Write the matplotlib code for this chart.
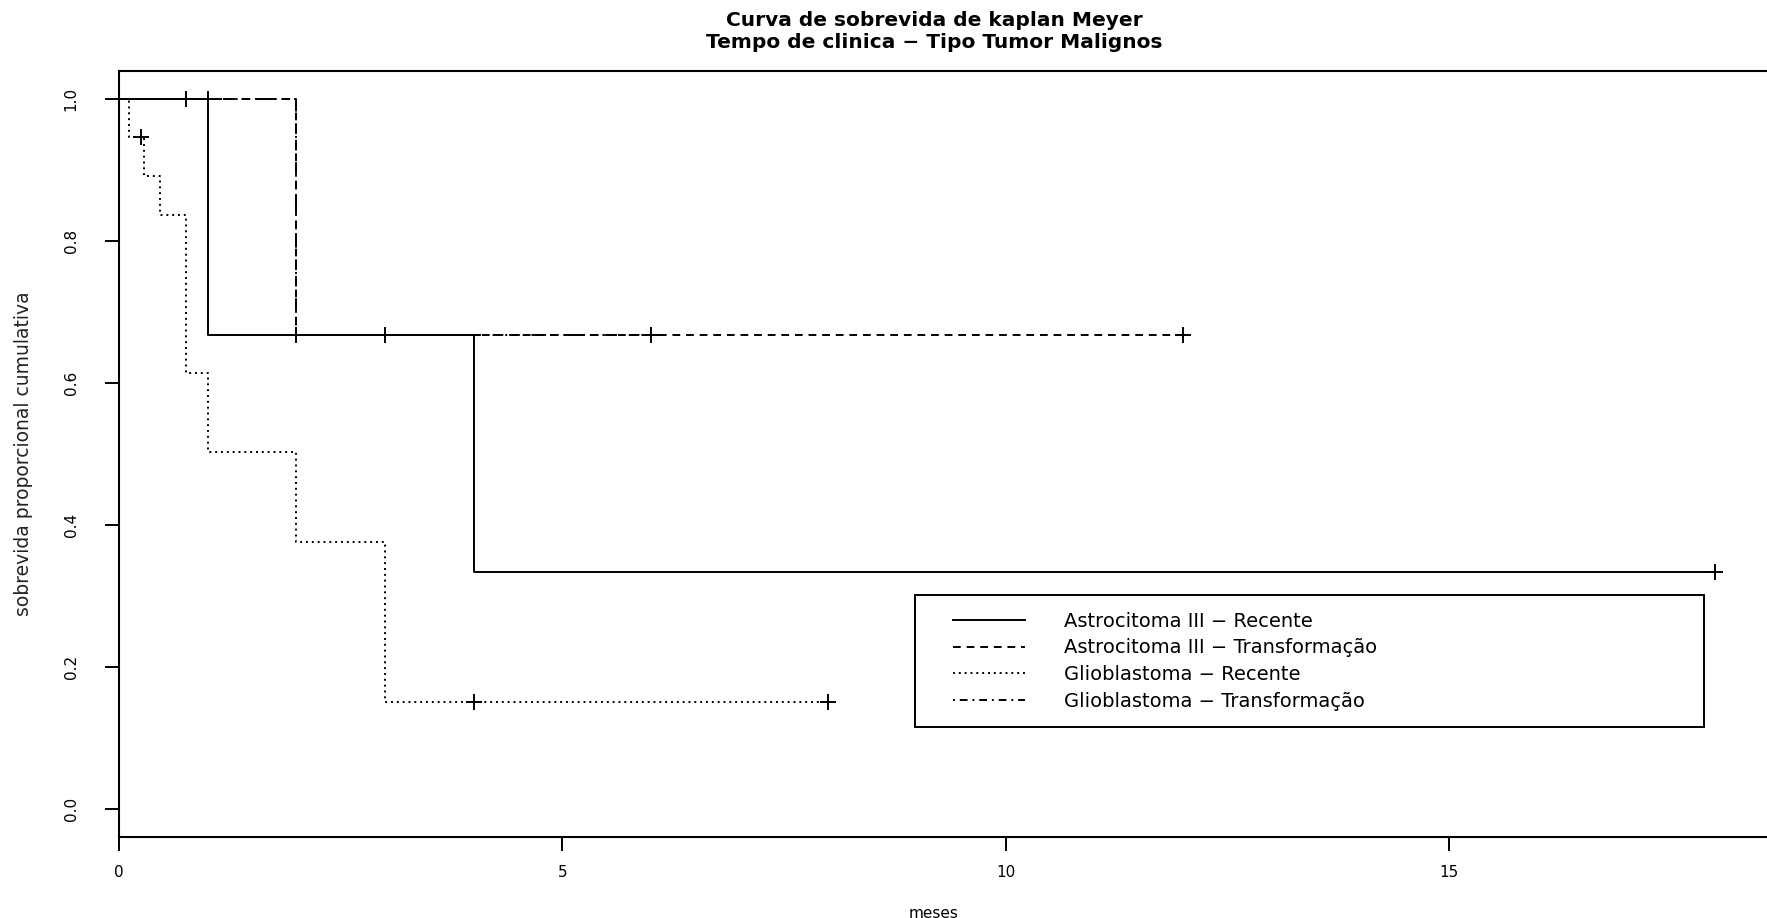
import matplotlib
matplotlib.use("Agg")
import matplotlib.pyplot as plt
from matplotlib.lines import Line2D
from matplotlib.legend_handler import HandlerLine2D

# Kaplan-Meier curves (time in months, survival after each step)
astro_rec_t = [0, 1, 4, 18]
astro_rec_s = [1.0, 0.667, 0.333, 0.333]
astro_rec_cens_t = [0.75, 18]
astro_rec_cens_s = [1.0, 0.333]

astro_tra_t = [0, 2, 12]
astro_tra_s = [1.0, 0.667, 0.667]
astro_tra_cens_t = [1, 3, 12]
astro_tra_cens_s = [1.0, 0.667, 0.667]

glio_rec_t = [0, 0.11, 0.28, 0.46, 0.76, 1, 2, 3, 8]
glio_rec_s = [1.0, 0.947, 0.892, 0.837, 0.614, 0.502, 0.376, 0.15, 0.15]
glio_rec_cens_t = [0.25, 4, 8]
glio_rec_cens_s = [0.947, 0.15, 0.15]

glio_tra_t = [0, 2, 6]
glio_tra_s = [1.0, 0.667, 0.667]
glio_tra_cens_t = [2, 6]
glio_tra_cens_s = [0.667, 0.667]

labels = ["Astrocitoma III \u2212 Recente",
          "Astrocitoma III \u2212 Transformação",
          "Glioblastoma \u2212 Recente",
          "Glioblastoma \u2212 Transformação"]

x_ticks = [0, 5, 10, 15]
y_ticks = [0.0, 0.2, 0.4, 0.6, 0.8, 1.0]

W, H = 1767, 918
fig = plt.figure(figsize=(W / 100, H / 100), dpi=100)
# plot region in pixels: left 119, right 1779 (past the edge), top 70.6, bottom 837
ax = fig.add_axes([119 / W, (H - 837) / H, (1779 - 119) / W, (837 - 70.6) / H])

lw = 1.4
styles = ["-", (0, (4, 3)), (0, (1, 2)), (0, (1, 2.5, 4, 2.5))]
curves = [
    (astro_rec_t, astro_rec_s, astro_rec_cens_t, astro_rec_cens_s),
    (astro_tra_t, astro_tra_s, astro_tra_cens_t, astro_tra_cens_s),
    (glio_rec_t, glio_rec_s, glio_rec_cens_t, glio_rec_cens_s),
    (glio_tra_t, glio_tra_s, glio_tra_cens_t, glio_tra_cens_s),
]
for (t, s, ct, cs), ls, lab in zip(curves, styles, labels):
    ax.step(t, s, where="post", color="black", lw=lw, linestyle=ls, label=lab)
    ax.plot(ct, cs, linestyle="none", marker="+", color="black",
            markersize=12, markeredgewidth=1.4)

ax.set_xlim(0, 18.72)
ax.set_ylim(-0.04, 1.04)
ax.set_xticks(x_ticks)
ax.set_yticks(y_ticks)
ax.set_yticklabels([f"{v:.1f}" for v in y_ticks])

for side in ["left", "bottom", "top", "right"]:
    ax.spines[side].set_linewidth(1.5)

ax.tick_params(axis="both", direction="out", length=10, width=1.4, labelsize=11)
ax.tick_params(axis="x", pad=10)
ax.tick_params(axis="y", pad=19, labelrotation=90)
for lbl in ax.get_yticklabels():
    lbl.set_va("center")

ax.set_xlabel("meses", fontsize=11)
ax.xaxis.set_label_coords(0.491, -0.09)
ax.set_ylabel("sobrevida proporcional cumulativa", fontsize=13.5, color="#222222")
ax.yaxis.set_label_coords(-0.052, 0.5)

ax.set_title("Curva de sobrevida de kaplan Meyer\nTempo de clinica \u2212 Tipo Tumor Malignos",
             fontsize=14.5, fontweight="bold", x=0.491, pad=16, linespacing=1.2)

leg = ax.legend(loc="upper left", bbox_to_anchor=(0.4795, 0.1409, 0.4753, 0.1748),
                mode="expand", fontsize=14, frameon=True, fancybox=False,
                edgecolor="black", framealpha=1, handlelength=4.8,
                handletextpad=2.0, labelspacing=0.4, borderpad=0.85,
                borderaxespad=0, handler_map={Line2D: HandlerLine2D(xpad=1.1)})
leg.get_frame().set_linewidth(1.4)

fig.savefig("out.png", dpi=100)
